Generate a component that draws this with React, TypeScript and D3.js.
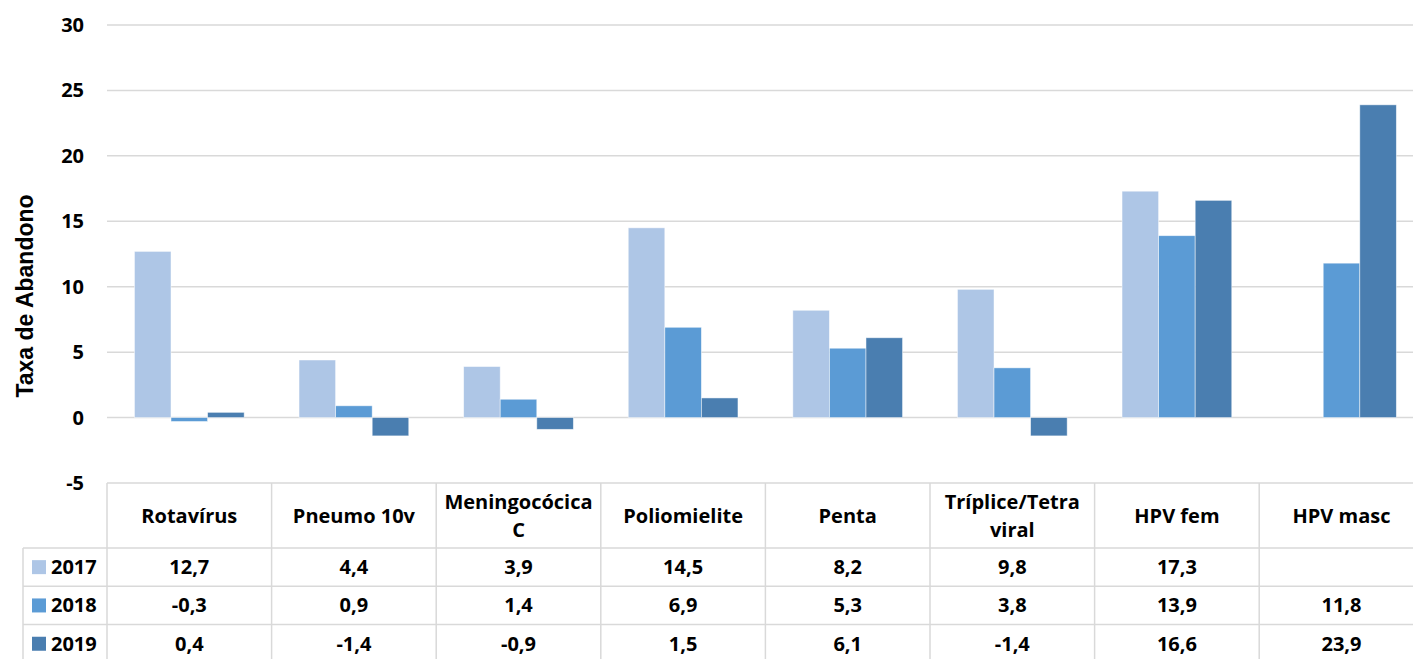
import React from "react";
import * as d3 from "d3";

const categories = ["Rotavírus", "Pneumo 10v", "Meningocócica C", "Poliomielite", "Penta", "Tríplice/Tetra viral", "HPV fem", "HPV masc"];
const categoryLines = [["Rotavírus"], ["Pneumo 10v"], ["Meningocócica", "C"], ["Poliomielite"], ["Penta"], ["Tríplice/Tetra", "viral"], ["HPV fem"], ["HPV masc"]];
const seriesNames = ["2017", "2018", "2019"];
const values2017: (number | null)[] = [12.7, 4.4, 3.9, 14.5, 8.2, 9.8, 17.3, null];
const values2018: (number | null)[] = [-0.3, 0.9, 1.4, 6.9, 5.3, 3.8, 13.9, 11.8];
const values2019: (number | null)[] = [0.4, -1.4, -0.9, 1.5, 6.1, -1.4, 16.6, 23.9];
const seriesValues = [values2017, values2018, values2019];
const colors = ["#aec6e6", "#5b9bd5", "#4a7eb0"];
const yTicks = [-5, 0, 5, 10, 15, 20, 25, 30];
const yTitle = "Taxa de Abandono";

const W = 1413, H = 659;
const plotLeft = 107;
const catW = 164.6;
const plotRight = plotLeft + categories.length * catW;
const FONT = "'Open Sans', sans-serif";
const FS = 20;

export default function App() {
  const x0 = d3.scaleBand<string>().domain(categories).range([plotLeft, plotRight]).paddingInner(0).paddingOuter(0);
  const x1 = d3.scaleBand<string>().domain(seriesNames).range([0, x0.bandwidth()]).paddingInner(0).paddingOuter(0.75);
  const y = d3.scaleLinear().domain([-5, 30]).range([483, 25]);
  const fmt = (v: number | null) => (v === null ? "" : d3.format(".1f")(v).replace(".", ",").replace("\u2212", "-"));

  const tableTop = y(-5);
  const catRowBottom = 548;
  const rowH = 38.3;
  const rowTops = seriesNames.map((_, i) => catRowBottom + i * rowH);
  const tableBottom = catRowBottom + 3 * rowH;
  const legendLeft = 23;
  const gridColor = "#d9d9d9";

  return (
    <svg width={W} height={H} style={{ position: "absolute", left: 0, top: 0, background: "#fff" }} fontFamily={FONT}>
      <rect x={0} y={0} width={W} height={H} fill="#fff" />
      {yTicks.filter((t) => t > -5).map((t) => (
        <line key={t} x1={plotLeft} x2={W} y1={y(t)} y2={y(t)} stroke={gridColor} strokeWidth={1.5} />
      ))}
      {yTicks.map((t) => (
        <text key={t} x={84} y={y(t)} dy="0.35em" textAnchor="end" fontSize={FS} fontWeight="bold" fill="#000">
          {String(t)}
        </text>
      ))}
      <text transform="translate(33,296) rotate(-90)" textAnchor="middle" fontSize={23} fontWeight="bold" fill="#000" style={{ fontFamily: "'Liberation Sans', Arial, sans-serif" }}>
        {yTitle}
      </text>
      {seriesNames.map((s, si) =>
        categories.map((c, ci) => {
          const v = seriesValues[si][ci];
          if (v === null) return null;
          const bx = (x0(c) as number) + (x1(s) as number);
          const y0 = y(0);
          const yv = y(v);
          return (
            <rect key={s + c} x={bx} width={x1.bandwidth()} y={Math.min(y0, yv)} height={Math.abs(yv - y0)} fill={colors[si]} stroke="#ffffff" strokeOpacity={0.6} strokeWidth={0.8} />
          );
        })
      )}
      <line x1={plotLeft} x2={W} y1={tableTop} y2={tableTop} stroke={gridColor} strokeWidth={1.5} />
      {rowTops.map((ry, i) => (
        <line key={i} x1={legendLeft} x2={W} y1={ry} y2={ry} stroke={gridColor} strokeWidth={1.5} />
      ))}
      <line x1={legendLeft} x2={legendLeft} y1={catRowBottom} y2={tableBottom} stroke={gridColor} strokeWidth={1.5} />
      {categories.map((c) => (
        <line key={c} x1={x0(c) as number} x2={x0(c) as number} y1={tableTop} y2={tableBottom} stroke={gridColor} strokeWidth={1.5} />
      ))}
      <line x1={plotRight} x2={plotRight} y1={tableTop} y2={tableBottom} stroke={gridColor} strokeWidth={1.5} />
      {categories.map((c, i) => {
        const lines = categoryLines[i];
        const cx = (x0(c) as number) + x0.bandwidth() / 2;
        const cy = (tableTop + catRowBottom) / 2;
        const lh = 28;
        return (
          <text key={c} x={cx} textAnchor="middle" fontSize={FS} fontWeight="bold" fill="#000">
            {lines.map((l, li) => (
              <tspan key={li} x={cx} y={cy + (li - (lines.length - 1) / 2) * lh} dy="0.35em">
                {l}
              </tspan>
            ))}
          </text>
        );
      })}
      {seriesNames.map((s, si) => {
        const cy = rowTops[si] + rowH / 2;
        return (
          <g key={s}>
            <rect x={32} y={cy - 7} width={14} height={14} fill={colors[si]} />
            <text x={51} y={cy} dy="0.35em" fontSize={FS} fontWeight="bold" fill="#000">
              {s}
            </text>
            {categories.map((c, ci) => (
              <text key={c} x={(x0(c) as number) + x0.bandwidth() / 2} y={cy} dy="0.35em" textAnchor="middle" fontSize={FS} fontWeight="bold" fill="#000">
                {fmt(seriesValues[si][ci])}
              </text>
            ))}
          </g>
        );
      })}
    </svg>
  );
}
